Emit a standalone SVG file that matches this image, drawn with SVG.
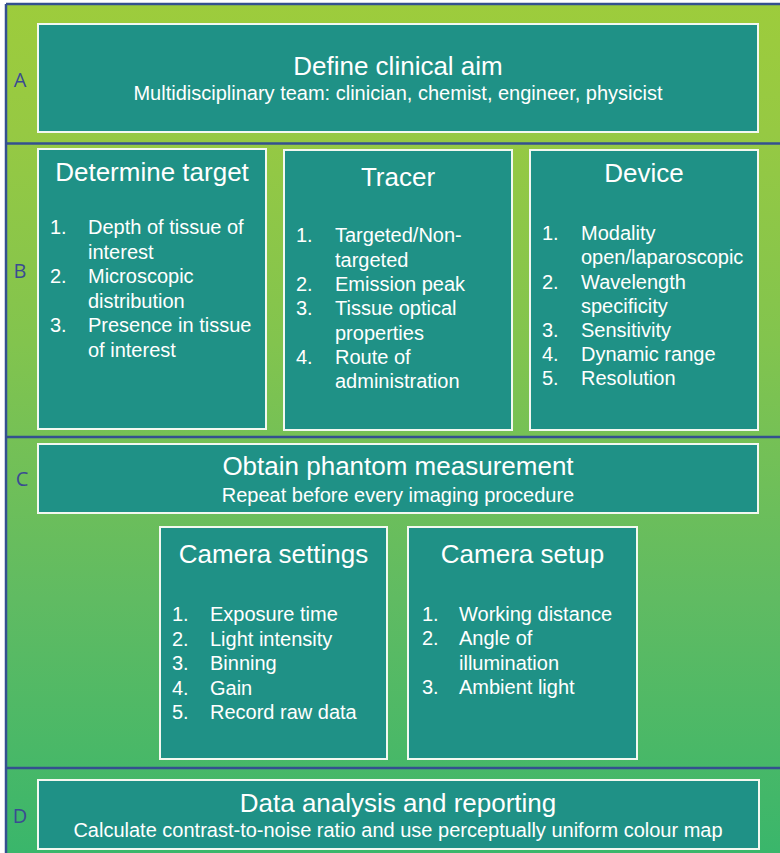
<svg xmlns="http://www.w3.org/2000/svg" width="780" height="853" viewBox="0 0 780 853">
<defs>
<linearGradient id="bg" x1="0" y1="0" x2="0" y2="1">
<stop offset="0" stop-color="#9dcc3c"/>
<stop offset="0.15" stop-color="#96c943"/>
<stop offset="0.4" stop-color="#82c44e"/>
<stop offset="0.7" stop-color="#60bb62"/>
<stop offset="1" stop-color="#3ab66b"/>
</linearGradient>
<style>
.box{fill:#1f9186;stroke:#f3f8f0;stroke-width:2}
.sep{stroke:#34508f;stroke-width:2.5;fill:none}
text{font-family:"Liberation Sans",Arial,sans-serif;fill:#ffffff}
.h{font-size:26px;text-anchor:middle}
.s{font-size:20px;text-anchor:middle}
.i{font-size:20px}
.lbl{font-family:"Open Sans","Liberation Sans",sans-serif;font-size:20px;fill:#3a4b92;text-anchor:middle}
</style>
</defs>
<rect x="0" y="0" width="780" height="853" fill="#ffffff"/>
<rect x="6" y="4" width="774" height="849" fill="url(#bg)"/>
<g id="bands">
<line class="sep" x1="6" y1="4" x2="780" y2="4"/>
<line class="sep" x1="6" y1="4" x2="6" y2="853"/>
<line class="sep" x1="6" y1="143.5" x2="780" y2="143.5"/>
<line class="sep" x1="6" y1="437" x2="780" y2="437"/>
<line class="sep" x1="6" y1="768" x2="780" y2="768"/>
<text class="lbl" x="20" y="87">A</text>
<text class="lbl" x="20" y="278">B</text>
<text class="lbl" x="22" y="486">C</text>
<text class="lbl" x="20" y="823">D</text>
</g>
<g id="connectors"/>
<g id="aim">
<rect class="box" x="38" y="24" width="720" height="108"/>
<text class="h" x="398" y="75">Define clinical aim</text>
<text class="s" x="398" y="100">Multidisciplinary team: clinician, chemist, engineer, physicist</text>
</g>
<g id="target">
<rect class="box" x="38" y="149" width="228" height="280"/>
<text class="h" x="152" y="181">Determine target</text>
<text class="i" x="50" y="234">1.</text><text class="i" x="88" y="234">Depth of tissue of</text>
<text class="i" x="88" y="258.5">interest</text>
<text class="i" x="50" y="283">2.</text><text class="i" x="88" y="283">Microscopic</text>
<text class="i" x="88" y="307.5">distribution</text>
<text class="i" x="50" y="332">3.</text><text class="i" x="88" y="332">Presence in tissue</text>
<text class="i" x="88" y="356.5">of interest</text>
</g>
<g id="tracer">
<rect class="box" x="284" y="150" width="228" height="280"/>
<text class="h" x="398" y="186">Tracer</text>
<text class="i" x="296" y="242">1.</text><text class="i" x="335" y="242">Targeted/Non-</text>
<text class="i" x="335" y="266.5">targeted</text>
<text class="i" x="296" y="291">2.</text><text class="i" x="335" y="291">Emission peak</text>
<text class="i" x="296" y="315">3.</text><text class="i" x="335" y="315">Tissue optical</text>
<text class="i" x="335" y="339.5">properties</text>
<text class="i" x="296" y="364">4.</text><text class="i" x="335" y="364">Route of</text>
<text class="i" x="335" y="388">administration</text>
</g>
<g id="device">
<rect class="box" x="530" y="150" width="228" height="280"/>
<text class="h" x="644" y="182">Device</text>
<text class="i" x="542" y="240">1.</text><text class="i" x="581" y="240">Modality</text>
<text class="i" x="581" y="264">open/laparoscopic</text>
<text class="i" x="542" y="288.5">2.</text><text class="i" x="581" y="288.5">Wavelength</text>
<text class="i" x="581" y="312.5">specificity</text>
<text class="i" x="542" y="337">3.</text><text class="i" x="581" y="337">Sensitivity</text>
<text class="i" x="542" y="361">4.</text><text class="i" x="581" y="361">Dynamic range</text>
<text class="i" x="542" y="385">5.</text><text class="i" x="581" y="385">Resolution</text>
</g>
<g id="phantom">
<rect class="box" x="38" y="444" width="720" height="69"/>
<text class="h" x="398" y="475">Obtain phantom measurement</text>
<text class="s" x="398" y="502">Repeat before every imaging procedure</text>
</g>
<g id="camera-settings">
<rect class="box" x="160" y="527" width="227" height="232"/>
<text class="h" x="273.5" y="563">Camera settings</text>
<text class="i" x="172" y="621">1.</text><text class="i" x="210" y="621">Exposure time</text>
<text class="i" x="172" y="645.5">2.</text><text class="i" x="210" y="645.5">Light intensity</text>
<text class="i" x="172" y="670">3.</text><text class="i" x="210" y="670">Binning</text>
<text class="i" x="172" y="694.5">4.</text><text class="i" x="210" y="694.5">Gain</text>
<text class="i" x="172" y="719">5.</text><text class="i" x="210" y="719">Record raw data</text>
</g>
<g id="camera-setup">
<rect class="box" x="408" y="527" width="229" height="232"/>
<text class="h" x="522.5" y="563">Camera setup</text>
<text class="i" x="422" y="620.5">1.</text><text class="i" x="459" y="620.5">Working distance</text>
<text class="i" x="422" y="645">2.</text><text class="i" x="459" y="645">Angle of</text>
<text class="i" x="459" y="669.5">illumination</text>
<text class="i" x="422" y="694">3.</text><text class="i" x="459" y="694">Ambient light</text>
</g>
<g id="analysis">
<rect class="box" x="38" y="780" width="721" height="69"/>
<text class="h" x="398" y="812">Data analysis and reporting</text>
<text class="s" x="398" y="837">Calculate contrast-to-noise ratio and use perceptually uniform colour map</text>
</g>
</svg>
